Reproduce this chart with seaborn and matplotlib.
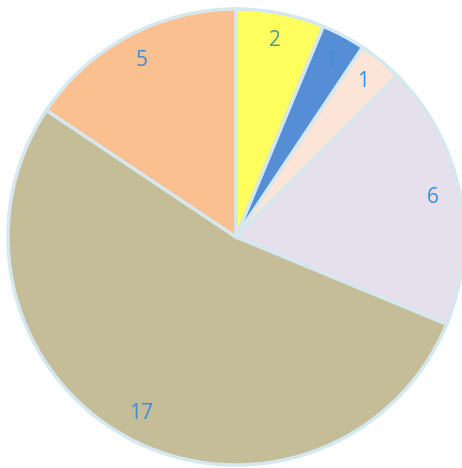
import matplotlib
matplotlib.use("Agg")
import matplotlib.pyplot as plt
import seaborn as sns

sns.set_style("white")
plt.rcParams["font.family"] = ["Open Sans", "DejaVu Sans"]

# Slice values, clockwise from 12 o'clock
values = [2, 1, 1, 6, 17, 5]
labels = ["2", "1", "1", "6", "17", "5"]
colors = ["#FFFF5E", "#558ED5", "#FCE4D6", "#E6E0EC", "#C4BD97", "#FAC090"]

fig = plt.figure(figsize=(4.62, 4.68), dpi=100)
ax = fig.add_axes([0, 0, 1, 1])

wedges, texts = ax.pie(
    values,
    labels=labels,
    colors=colors,
    startangle=90,
    counterclock=False,
    radius=1.0,
    labeldistance=0.88,
    wedgeprops=dict(edgecolor="#D5E8F0", linewidth=2.5),
    textprops=dict(color="#3A8DD6", fontsize=15),
)
for t in texts:
    t.set_horizontalalignment("center")
    t.set_verticalalignment("center")
# the label on the yellow slice reads slightly greener
texts[0].set_color("#4A9A8C")

# pie centre at (236, 237) px with radius ~228 px in a 462x468 canvas
r = 228.0
cx, cy = 236.0, 468 - 237.0
ax.set_xlim(-cx / r, (462 - cx) / r)
ax.set_ylim(-cy / r, (468 - cy) / r)
ax.set_aspect("equal")
ax.axis("off")

fig.savefig("out.png", dpi=100)
